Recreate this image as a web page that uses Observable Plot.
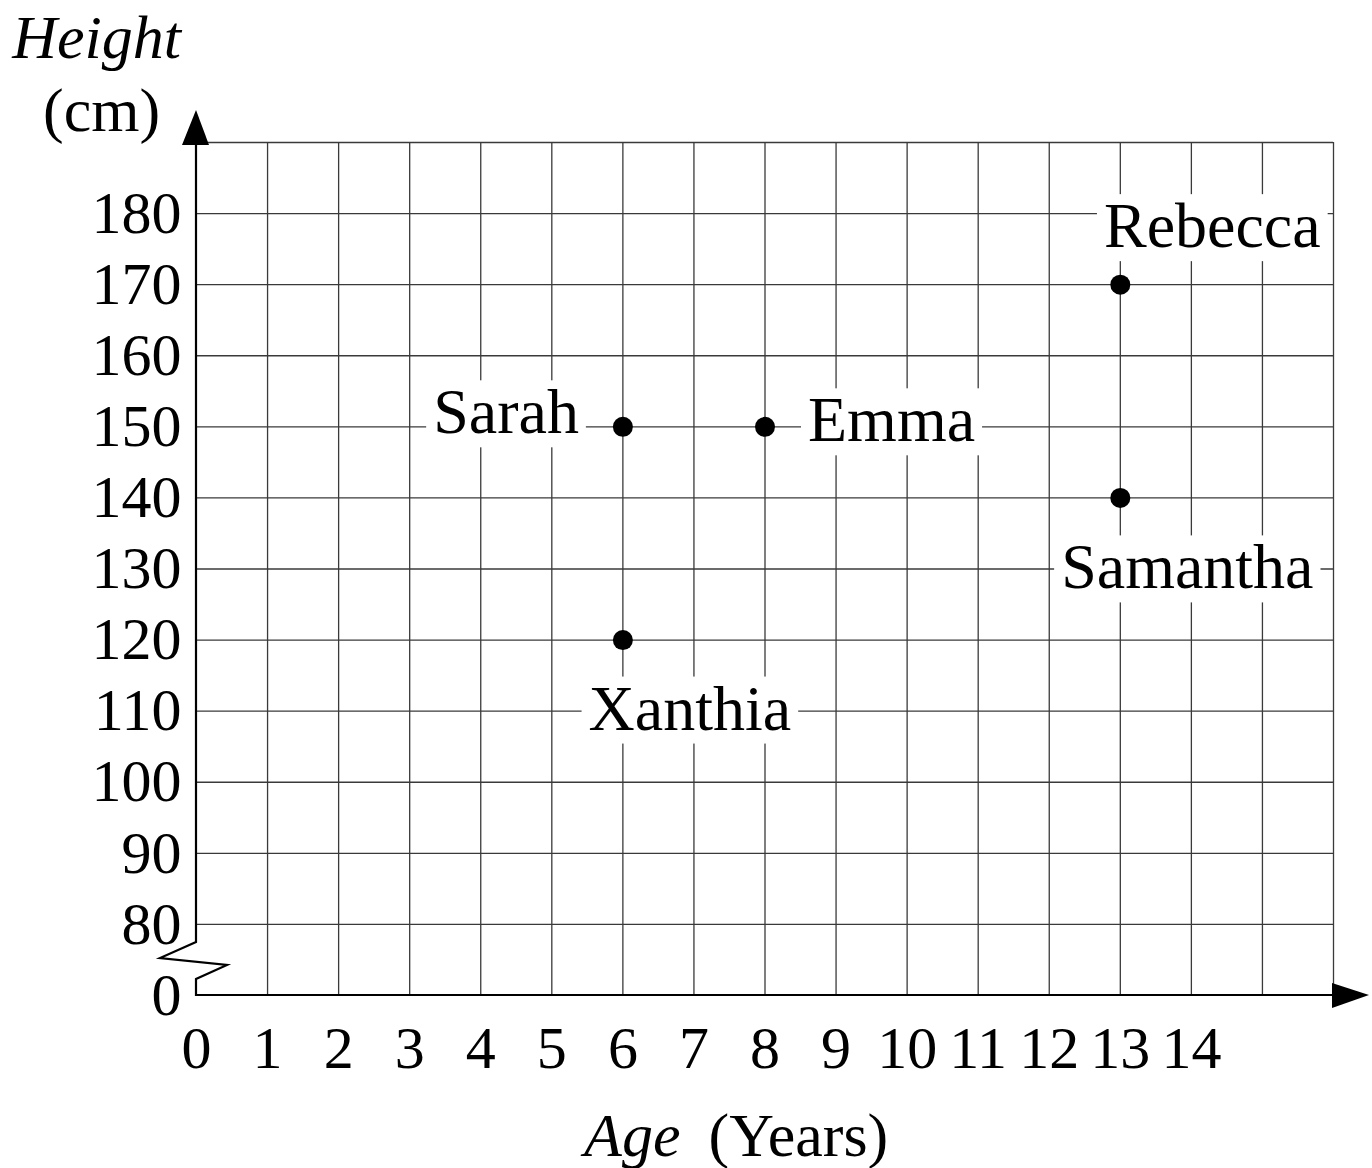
<!DOCTYPE html>
<html><head><meta charset="utf-8">
<script src="https://cdn.jsdelivr.net/npm/d3@7"></script>
<script src="https://cdn.jsdelivr.net/npm/@observablehq/plot@0.6"></script>
<style>body{margin:0;background:#fff}</style>
</head><body><div id="chart"></div>
<script>
// ---- data ----
const names = ["Sarah", "Emma", "Rebecca", "Samantha", "Xanthia"];
const ages = [6, 8, 13, 13, 6];
const heights = [150, 150, 170, 140, 120];
const xTickLabels = [0,1,2,3,4,5,6,7,8,9,10,11,12,13,14];
const xGridLines = [1,2,3,4,5,6,7,8,9,10,11,12,13,14,15,16];
const yTickLabels = [0,80,90,100,110,120,130,140,150,160,170,180];
const yGridLines = [80,90,100,110,120,130,140,150,160,170,180,190];

const BREAK = 70; // position on the broken axis that stands for 0
const points = names.map((n, i) => ({name: n, age: ages[i], height: heights[i]}));
const yTickPos = yTickLabels.map(v => v === 0 ? BREAK : v);

// label placement (pixel offsets from the dot)
const place = {
  Sarah:    {textAnchor: "end",    dx: -44, dy: -14},
  Emma:     {textAnchor: "start",  dx: 43,  dy: -6},
  Rebecca:  {textAnchor: "middle", dx: 92,  dy: -58},
  Samantha: {textAnchor: "middle", dx: 67,  dy: 70},
  Xanthia:  {textAnchor: "middle", dx: 67,  dy: 69}
};

const FONT = "'Liberation Serif', 'Times New Roman', serif";
const GRID = {stroke: "#3a3a3a", strokeOpacity: 1, strokeWidth: 1.3};

function axesMark(index, {x, y}) {
  const x0 = x(0), y0 = y(BREAK), xEnd = x(16), yTop = y(190);
  const g = d3.create("svg:g");
  g.append("path").attr("fill", "none").attr("stroke", "black").attr("stroke-width", 2.2)
    .attr("d", `M${x0},${yTop}V${y0 - 53}L${x0 - 36},${y0 - 37}L${x0 + 31},${y0 - 30}L${x0},${y0 - 16}V${y0}H${xEnd}`);
  g.append("path").attr("fill", "black")
    .attr("d", `M${x0 - 14},${yTop + 3}L${x0},${yTop - 32}L${x0 + 13},${yTop + 3}Z`);
  g.append("path").attr("fill", "black")
    .attr("d", `M${xEnd - 1},${y0 - 12}L${xEnd + 36},${y0}L${xEnd - 1},${y0 + 13}Z`);
  return g.node();
}

const chart = Plot.plot({
  width: 1372,
  height: 1168,
  marginLeft: 196,
  marginRight: 39,
  marginTop: 142,
  marginBottom: 173,
  style: {fontFamily: FONT, background: "white", color: "black"},
  x: {domain: [0, 16]},
  y: {domain: [BREAK, 190]},
  marks: [
    Plot.gridX(xGridLines, GRID),
    Plot.gridY(yGridLines, GRID),
    Plot.axisX(xTickLabels, {tickSize: 0, tickPadding: 30, fontSize: 60, label: null}),
    Plot.axisY(yTickPos, {tickSize: 0, tickPadding: 15, fontSize: 60, label: null,
      tickFormat: d => d === BREAK ? "0" : String(d)}),
    axesMark,
    Plot.dot(points, {x: "age", y: "height", r: 10, fill: "black", stroke: "none"}),
    ...points.map(p => Plot.text([p], {
      x: "age", y: "height", text: "name", fontSize: 64, fill: "black",
      lineAnchor: "middle", ariaDescription: "name-label", ...place[p.name]
    })),
    Plot.text(["Height"], {frameAnchor: "top-left", dx: -100, dy: -85, textAnchor: "middle",
      lineAnchor: "bottom", fontSize: 62, fontStyle: "italic", fill: "black"}),
    Plot.text(["(cm)"], {frameAnchor: "top-left", dx: -95, dy: -12, textAnchor: "middle",
      lineAnchor: "bottom", fontSize: 62, fill: "black"}),
    Plot.text(["Age"], {frameAnchor: "bottom-left", dx: 484, dy: 160, textAnchor: "end",
      lineAnchor: "bottom", fontSize: 62, fontStyle: "italic", fill: "black"}),
    Plot.text(["(Years)"], {frameAnchor: "bottom-left", dx: 512, dy: 160, textAnchor: "start",
      lineAnchor: "bottom", fontSize: 62, fill: "black"})
  ]
});
document.getElementById("chart").appendChild(chart);

// white boxes behind the name labels
const ns = "http://www.w3.org/2000/svg";
chart.querySelectorAll('g[aria-description="name-label"] text').forEach(t => {
  const b = t.getBBox();
  const r = document.createElementNS(ns, "rect");
  r.setAttribute("x", b.x - 7);
  r.setAttribute("y", b.y + 4);
  r.setAttribute("width", b.width + 14);
  r.setAttribute("height", b.height - 4);
  r.setAttribute("fill", "white");
  if (t.getAttribute("transform")) r.setAttribute("transform", t.getAttribute("transform"));
  t.parentNode.insertBefore(r, t);
});
</script>
</body></html>
